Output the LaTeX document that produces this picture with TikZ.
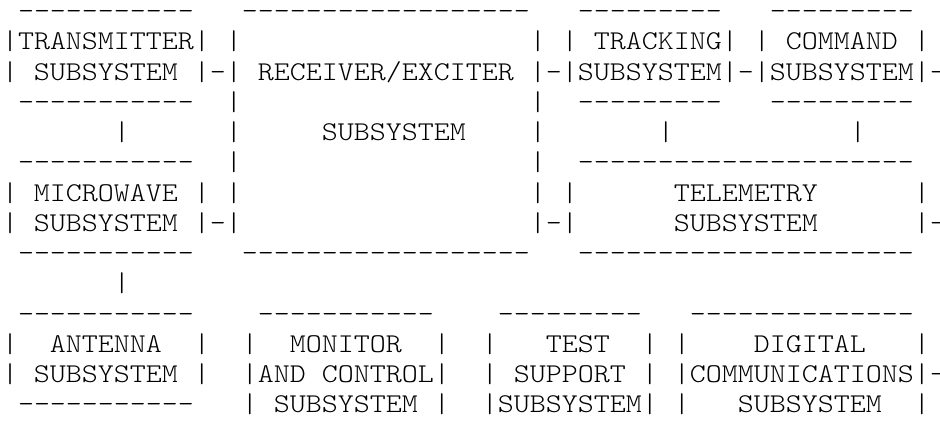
\documentclass[tikz,border=0pt]{standalone}
\usepackage{fontspec}
% thin typewriter face for the character-cell drawing
\newfontfamily\asciifont{lmmonolt10-regular.otf}

% a run of hyphens, each in its own box so no dash ligature can form
\newcount\dashcount
\newcommand\dr[1]{\dashcount=#1\relax\loop\hbox{-}\advance\dashcount by -1\relax\ifnum\dashcount>0 \repeat}

\tikzset{
  asciirow/.style={font=\asciifont\fontsize{30.476pt}{30pt}\selectfont,
    inner sep=0pt, outer sep=0pt, anchor=base west, yscale=0.89, text=black}
}

\begin{document}
\begin{tikzpicture}[x=1pt,y=1pt]
\useasboundingbox[fill=white] (0,0) rectangle (940,430);

\node[asciirow] (row1)  at (2,410.25) {~\dr{11}~~~\dr{18}~~~\dr{9}~~~\dr{9}};
\node[asciirow] (row2)  at (2,380.00) {|TRANSMITTER|~|~~~~~~~~~~~~~~~~~~|~|~TRACKING|~|~COMMAND~|};
\node[asciirow] (row3)  at (2,349.75) {|~SUBSYSTEM~|-|~RECEIVER/EXCITER~|-|SUBSYSTEM|-|SUBSYSTEM|-};
\node[asciirow] (row4)  at (2,319.50) {~\dr{11}~~|~~~~~~~~~~~~~~~~~~|~~\dr{9}~~~\dr{9}};
\node[asciirow] (row5)  at (2,289.25) {~~~~~~~|~~~~~~|~~~~~SUBSYSTEM~~~~|~~~~~~~|~~~~~~~~~~~|};
\node[asciirow] (row6)  at (2,259.00) {~\dr{11}~~|~~~~~~~~~~~~~~~~~~|~~\dr{21}};
\node[asciirow] (row7)  at (2,228.75) {|~MICROWAVE~|~|~~~~~~~~~~~~~~~~~~|~|~~~~~~TELEMETRY~~~~~~|};
\node[asciirow] (row8)  at (2,198.50) {|~SUBSYSTEM~|-|~~~~~~~~~~~~~~~~~~|-|~~~~~~SUBSYSTEM~~~~~~|-};
\node[asciirow] (row9)  at (2,168.25) {~\dr{11}~~~\dr{18}~~~\dr{21}};
\node[asciirow] (row10) at (2,138.00) {~~~~~~~|};
\node[asciirow] (row11) at (2,107.75) {~\dr{11}~~~~\dr{11}~~~~\dr{9}~~~\dr{14}};
\node[asciirow] (row12) at (2,77.50)  {|~~ANTENNA~~|~~|~~MONITOR~~|~~|~~~TEST~~|~|~~~~DIGITAL~~~|};
\node[asciirow] (row13) at (2,47.25)  {|~SUBSYSTEM~|~~|AND~CONTROL|~~|~SUPPORT~|~|COMMUNICATIONS|-};
\node[asciirow] (row14) at (2,17.00)  {~\dr{11}~~~|~SUBSYSTEM~|~~|SUBSYSTEM|~|~~~SUBSYSTEM~~|};
\end{tikzpicture}
\end{document}
